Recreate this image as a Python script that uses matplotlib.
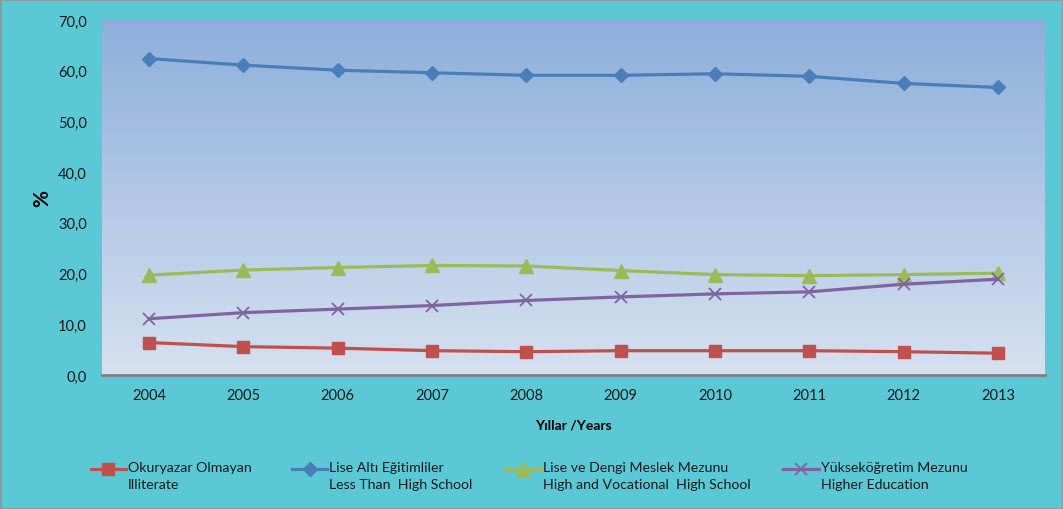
import numpy as np
import matplotlib
matplotlib.use("Agg")
import matplotlib.pyplot as plt
from matplotlib.colors import LinearSegmentedColormap
from matplotlib.ticker import FuncFormatter, MultipleLocator

years = ["2004", "2005", "2006", "2007", "2008", "2009", "2010", "2011", "2012", "2013"]
illiterate = [6.4, 5.6, 5.3, 4.8, 4.6, 4.8, 4.8, 4.8, 4.6, 4.3]
less_than_hs = [62.4, 61.1, 60.1, 59.6, 59.1, 59.1, 59.4, 58.9, 57.5, 56.7]
high_voc = [19.7, 20.7, 21.2, 21.6, 21.5, 20.6, 19.8, 19.6, 19.8, 20.1]
higher_edu = [11.1, 12.3, 13.0, 13.7, 14.7, 15.4, 16.0, 16.4, 17.9, 18.9]

labels = ["Okuryazar Olmayan  \nIlliterate",
          "Lise Altı Eğitimliler\nLess Than  High School",
          "Lise ve Dengi Meslek Mezunu\nHigh and Vocational  High School",
          "Yükseköğretim Mezunu\nHigher Education"]

plt.rcParams['font.family'] = ['Lato', 'DejaVu Sans']

fig = plt.figure(figsize=(10.63, 5.10), dpi=100, facecolor='#5BC8D6',
                 linewidth=2, edgecolor='#8A9BA3')
ax = fig.add_axes([0.0960, 0.2627, 0.8871, 0.6961])

x = np.arange(len(years))
ax.set_xlim(-0.5, len(years) - 0.5)
ax.set_ylim(0, 70)

# gradient background
cmap = LinearSegmentedColormap.from_list('bg', ['#D6E1F0', '#8DAFDB'])
grad = np.linspace(0, 1, 256).reshape(-1, 1)
ax.imshow(grad, extent=(-0.5, len(years) - 0.5, 0, 70), origin='lower',
          aspect='auto', cmap=cmap, zorder=0)

ax.plot(x, illiterate, color='#C0504D', lw=2.3, marker='s', ms=8.5,
        label=labels[0], zorder=3)
ax.plot(x, less_than_hs, color='#4A7EBB', lw=2.3, marker='D', ms=7.5,
        label=labels[1], zorder=3)
ax.plot(x, high_voc, color='#9BBB59', lw=2.3, marker='^', ms=10,
        label=labels[2], zorder=3)
ax.plot(x, higher_edu, color='#8064A2', lw=2.3, marker='x', ms=9, mew=1.3,
        label=labels[3], zorder=3)

ax.set_xticks(x)
ax.set_xticklabels(years)
ax.yaxis.set_major_locator(MultipleLocator(10))
ax.yaxis.set_major_formatter(FuncFormatter(lambda v, p: f"{v:.1f}".replace('.', ',')))
ax.tick_params(axis='both', length=0, labelsize=10.5, colors='#1a1a1a')
ax.tick_params(axis='y', pad=11)
ax.tick_params(axis='x', pad=9)

for s in ['top', 'right', 'left']:
    ax.spines[s].set_visible(False)
ax.spines['bottom'].set_color('#7F7F7F')
ax.spines['bottom'].set_linewidth(2)
ax.spines['bottom'].set_zorder(4)

ax.set_ylabel('%', fontsize=15, fontweight='bold', labelpad=4)
ax.set_xlabel('Yıllar /Years', fontsize=10, fontweight='bold', labelpad=12)

leg = fig.legend(loc='upper left', bbox_to_anchor=(0.080, 0.114), ncol=4,
                 frameon=False, fontsize=10.2, handlelength=2.5,
                 handletextpad=0.15, columnspacing=2.3, handleheight=4.1,
                 borderaxespad=0, labelspacing=0)
for t in leg.get_texts():
    t.set_color('#1a1a1a')
    t.set_linespacing(1.5)

fig.savefig('out.png', dpi=100, facecolor=fig.get_facecolor(), edgecolor=fig.get_edgecolor())
